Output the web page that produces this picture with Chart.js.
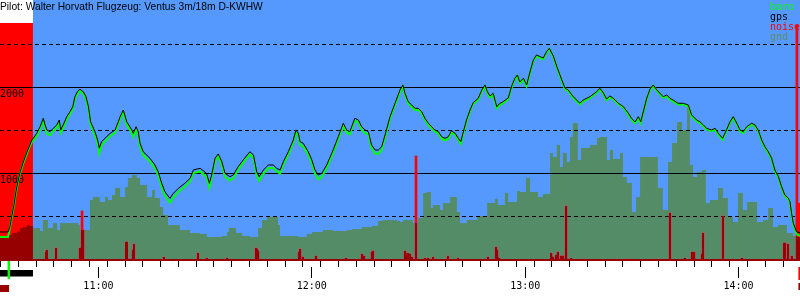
<!DOCTYPE html>
<html lang="de">
<head>
<meta charset="UTF-8">
<title>Barogramm D-KWHW</title>
<script src="https://cdn.jsdelivr.net/npm/chart.js@4.4.0/dist/chart.umd.min.js"></script>
<style>
  html, body { margin: 0; padding: 0; background: #ffffff; }
</style>
</head>
<body>
<canvas id="barogramm" width="800" height="300"></canvas>
<script>
// Zeiten in Minuten seit Mitternacht, Hoehen in Metern
const zeitMin = 632.33;
const zeitMax = 857.27;
const startZeit = 634.6;     // Abheben
const klinkZeit = 641.6;     // Ende Schlepp
const landeZeit = 856.4;
const schleppOben = 2756;

const zeitFlug = [
  632.3, 634.6, 635.1, 635.7, 636.3, 636.8, 637.4, 638.0, 638.8, 639.6, 640.5, 641.3, 641.7, 642.65, 643.6,
  644.5, 645.0, 645.5, 646.4, 647.3, 648.3, 649.0, 649.4, 650.1, 651.1, 652.0, 652.8, 653.4, 654.1, 654.8,
  655.75, 656.5, 657.2, 657.8, 658.4, 659.0, 659.5, 660.0, 660.25, 660.9, 661.85, 663.3, 664.7, 665.6, 666.1,
  667.0, 667.95, 669.4, 669.8, 670.6, 671.2, 671.7, 672.6, 674.5, 675.9, 676.8, 677.8, 678.7, 680.1, 681.1,
  682.5, 684.3, 685.8, 686.7, 688.6, 690.4, 691.2, 691.85, 692.8, 693.7, 694.7, 695.6, 697.0, 697.9, 699.3,
  700.7, 702.6, 703.6, 704.5, 705.2, 706.4, 707.8, 709.2, 710.1, 711.1, 712.0, 713.4, 714.8, 715.55, 716.2,
  716.7, 717.6, 719.0, 720.0, 720.9, 721.8, 722.8, 724.2, 726.0, 727.45, 728.85, 729.8, 730.7, 732.1, 733.1,
  734.0, 735.0, 735.9, 736.8, 737.8, 738.7, 739.65, 740.6, 742.0, 743.4, 744.8, 745.6, 746.2, 747.1, 748.1,
  749.0, 749.95, 750.9, 751.8, 752.75, 753.7, 754.6, 755.6, 756.5, 757.45, 758.4, 759.3, 760.3, 761.2, 761.9,
  762.6, 763.5, 764.5, 765.4, 766.8, 767.8, 768.7, 769.35, 770.1, 771.0, 772.0, 772.9, 773.8, 775.25, 776.2,
  777.1, 777.8, 778.5, 779.5, 780.4, 781.35, 782.3, 783.2, 784.2, 785.1, 786.0, 786.8, 787.9, 788.9, 790.3,
  791.2, 792.1, 793.5, 795.4, 796.3, 798.2, 800.1, 801.0, 801.9, 802.9, 803.8, 804.8, 806.2, 807.6, 809.0,
  809.9, 810.9, 811.8, 812.5, 813.2, 814.2, 815.1, 816.0, 817.0, 817.9, 818.8, 819.8, 820.7, 821.6, 823.0,
  824.45, 825.85, 826.8, 828.2, 829.1, 830.1, 831.0, 832.4, 833.4, 834.3, 835.5, 836.6, 837.6, 838.5, 839.5,
  840.4, 841.3, 842.3, 843.7, 844.6, 845.5, 846.5, 847.4, 848.35, 849.3, 850.2, 851.2, 852.1, 853.0, 854.0,
  854.45, 854.9, 855.4, 856.3, 857.3
];

const hoeheGps = [
  326, 326, 384, 523, 651, 791, 919, 1023, 1128, 1221, 1314, 1395, 1415, 1473, 1550,
  1648, 1570, 1512, 1492, 1531, 1570, 1628, 1512, 1570, 1666, 1724, 1783, 1899, 1957, 1985,
  1957, 1899, 1783, 1608, 1550, 1492, 1434, 1357, 1299, 1376, 1415, 1473, 1512, 1608, 1666,
  1744, 1608, 1512, 1473, 1550, 1492, 1357, 1259, 1183, 1105, 1027, 892, 794, 717, 776,
  834, 892, 950, 1047, 1066, 1008, 892, 988, 1183, 1233, 1143, 1008, 969, 988, 1085,
  1163, 1259, 1221, 1027, 969, 1047, 1105, 1105, 1066, 1047, 1143, 1259, 1395, 1512, 1473,
  1376, 1357, 1259, 1163, 1047, 988, 1008, 1105, 1279, 1434, 1590, 1512, 1492, 1648, 1628,
  1550, 1512, 1492, 1337, 1279, 1279, 1317, 1454, 1666, 1822, 1977, 2035, 1938, 1841, 1802,
  1764, 1764, 1724, 1648, 1590, 1550, 1512, 1492, 1434, 1415, 1434, 1504, 1473, 1415, 1376,
  1488, 1628, 1744, 1831, 1880, 1977, 2035, 1957, 1907, 1938, 1783, 1822, 1841, 1884, 2023,
  2113, 2151, 2070, 2113, 2035, 2186, 2326, 2384, 2364, 2349, 2422, 2462, 2372, 2248, 2093,
  1997, 1977, 1899, 1822, 1860, 1899, 1957, 1997, 1948, 1872, 1907, 1880, 1822, 1783, 1706,
  1648, 1605, 1666, 1608, 1721, 1884, 1988, 2035, 1977, 1938, 1899, 1919, 1880, 1860, 1822,
  1822, 1802, 1686, 1628, 1608, 1570, 1531, 1512, 1531, 1473, 1415, 1512, 1608, 1666, 1590,
  1512, 1492, 1550, 1590, 1570, 1512, 1395, 1317, 1259, 1183, 1047, 969, 852, 756, 717,
  678, 543, 427, 329, 317
];

const hoeheBaro = [
  267, 267, 370, 510, 640, 780, 905, 1010, 1115, 1205, 1300, 1375, 1390, 1440, 1520,
  1620, 1535, 1470, 1450, 1500, 1540, 1595, 1480, 1535, 1635, 1695, 1755, 1870, 1935, 1965,
  1935, 1870, 1750, 1575, 1515, 1455, 1395, 1310, 1240, 1335, 1380, 1440, 1480, 1575, 1635,
  1720, 1575, 1475, 1430, 1515, 1455, 1320, 1220, 1145, 1065, 985, 850, 750, 665, 730,
  795, 855, 915, 1010, 1030, 965, 840, 950, 1150, 1205, 1105, 965, 925, 950, 1050,
  1130, 1230, 1185, 985, 920, 1005, 1070, 1070, 1030, 1005, 1110, 1225, 1365, 1485, 1445,
  1340, 1320, 1225, 1125, 1005, 940, 965, 1070, 1245, 1405, 1565, 1480, 1460, 1620, 1600,
  1515, 1475, 1460, 1300, 1235, 1235, 1280, 1425, 1640, 1800, 1955, 2015, 1915, 1820, 1780,
  1745, 1745, 1705, 1630, 1570, 1530, 1495, 1470, 1410, 1390, 1410, 1485, 1455, 1395, 1350,
  1465, 1610, 1730, 1815, 1865, 1960, 2020, 1940, 1890, 1925, 1765, 1805, 1825, 1870, 2005,
  2100, 2140, 2055, 2100, 2020, 2170, 2310, 2370, 2350, 2335, 2410, 2455, 2360, 2235, 2080,
  1985, 1965, 1885, 1810, 1845, 1885, 1945, 1985, 1935, 1860, 1895, 1868, 1810, 1770, 1690,
  1632, 1590, 1650, 1592, 1705, 1870, 1975, 2025, 1965, 1925, 1885, 1905, 1865, 1845, 1808,
  1808, 1788, 1672, 1615, 1595, 1556, 1518, 1498, 1518, 1458, 1400, 1498, 1595, 1652, 1576,
  1498, 1478, 1536, 1576, 1556, 1498, 1382, 1304, 1246, 1170, 1034, 956, 840, 744, 705,
  665, 530, 410, 300, 280
];

// Gelaendehoehe unter dem Flugzeug (Stufen)
const zeitGnd = [
  632.3, 634.6, 635.7, 637.1, 638.0, 638.8, 639.9, 640.8, 641.6, 643.6, 644.4, 645.8, 647.2, 648.4, 649.2,
  654.3, 654.8, 657.6, 658.5, 660.4, 661.85, 662.7, 663.8, 664.7, 666.1, 667.5, 668.3, 669.4, 670.8, 671.7,
  673.7, 675.1, 675.9, 677.3, 678.2, 679.6, 682.9, 685.75, 688.6, 690.5, 694.75, 696.2, 696.7, 698.7, 700.4,
  702.6, 704.9, 706.0, 707.4, 710.5, 711.05, 716.1, 718.6, 720.1, 723.1, 726.0, 729.9, 731.3, 734.1, 736.9,
  738.6, 740.0, 743.95, 744.8, 745.6, 748.4, 749.9, 751.3, 752.4, 753.5, 754.1, 756.0, 756.9, 758.9, 760.8,
  761.7, 763.6, 766.5, 769.3, 771.5, 772.3, 774.3, 775.2, 777.7, 778.5, 780.2, 781.35, 783.6, 785.0, 787.0,
  787.8, 788.9, 789.8, 790.6, 791.7, 792.6, 793.4, 794.8, 795.7, 798.2, 800.2, 801.0, 803.0, 803.8, 804.7,
  806.65, 807.5, 808.6, 810.0, 811.15, 812.3, 817.3, 818.7, 820.15, 821.3, 822.7, 824.1, 825.5, 826.3, 827.2,
  828.3, 829.7, 830.8, 831.95, 834.2, 835.6, 837.0, 838.4, 839.8, 841.2, 842.4, 845.2, 846.9, 848.3, 849.7,
  851.1, 853.6, 855.3, 856.4, 857.3
];

const hoeheGnd = [
  267, 291, 314, 331, 372, 384, 407, 395, 372, 337, 465, 372, 430, 349, 430,
  407, 349, 698, 733, 674, 733, 698, 756, 837, 733, 849, 953, 988, 953, 872,
  733, 814, 721, 616, 523, 407, 349, 314, 302, 267, 279, 326, 372, 314, 279,
  267, 372, 465, 500, 407, 279, 267, 302, 326, 349, 337, 349, 360, 384, 395,
  453, 465, 453, 442, 465, 430, 488, 779, 791, 605, 640, 581, 663, 733, 558,
  430, 465, 512, 663, 709, 640, 779, 674, 802, 791, 953, 791, 733, 767, 1244,
  1198, 1337, 1081, 1244, 1140, 1430, 1593, 1163, 1302, 1337, 1419, 1430, 1163, 1279, 1174,
  1244, 965, 895, 558, 733, 1198, 837, 581, 1140, 1360, 1605, 1512, 1779, 1105, 965,
  1023, 1047, 663, 698, 837, 721, 500, 442, 779, 581, 674, 442, 465, 605, 384,
  407, 314, 279, 267, 267
];

// Geraeuschpegel (Motor / Variometer)
const zeitNoise = [
  645.3, 645.5, 648.1, 654.8, 655.4, 655.7, 667.8, 668.0, 668.9, 669.7, 670.0, 678.4, 688.0, 690.5, 696.2,
  704.3, 704.6, 704.9, 713.9, 716.4, 716.7, 717.5, 721.2, 729.6, 734.1, 734.7, 736.9, 737.2, 746.2, 746.5,
  747.0, 747.6, 748.2, 749.3, 751.8, 752.7, 754.1, 758.3, 761.1, 769.5, 771.8, 772.1, 772.6, 787.3, 787.8,
  788.7, 789.2, 790.1, 790.6, 791.5, 792.9, 796.5, 805.2, 808.6, 816.8, 820.7, 824.9, 826.9, 827.5, 829.7,
  830.0, 835.6, 841.0, 852.8, 853.0, 853.9, 855.0, 856.4, 856.8, 857.1
];

const werteNoise = [
  93, 116, 140, 140, 570, 349, 209, 209, 12, 116, 186, 35, 81, 23, 23,
  140, 128, 105, 12, 93, 128, 35, 47, 23, 70, 47, 93, 105, 105, 58,
  81, 70, 35, 1209, 23, 23, 35, 47, 23, 35, 151, 116, 23, 81, 35,
  58, 93, 47, 47, 628, 23, 12, 12, 12, 12, 547, 23, 93, 93, 70,
  314, 512, 23, 198, 198, 186, 47, 2730, 660, 660
];

const fuenfMinuten = [
  635, 640, 645, 650, 655, 660, 665, 670, 675, 680, 685, 690, 695, 700, 705,
  710, 715, 720, 725, 730, 735, 740, 745, 750, 755, 760, 765, 770, 775, 780,
  785, 790, 795, 800, 805, 810, 815, 820, 825, 830, 835, 840, 845, 850, 855
];
const stunden = [660, 720, 780, 840];
const hoehenLinien = [500, 1000, 1500, 2000, 2500];

const titel = 'Pilot: Walter Horvath Flugzeug: Ventus 3m/18m D-KWHW';
const legende = [
  { text: 'baro', farbe: '#00ff00' },
  { text: 'gps', farbe: '#000000' },
  { text: 'noise', farbe: '#ff0000' },
  { text: 'gnd', farbe: 'rgb(95,140,100)' }
];

const blau = '#5599ff';
const rot = '#ff0000';
const dunkelrot = '#990000';
const gndFarbe = 'rgb(150,140,104)';
const mono = "'DejaVu Sans Mono', monospace";

function punkte(zeiten, werte) {
  return zeiten.map((t, i) => ({ x: t, y: werte[i] }));
}

function uhrzeit(v) {
  const h = Math.floor(v / 60);
  const m = Math.round(v - h * 60);
  return h + ':' + String(m).padStart(2, '0');
}

const barogrammPlugin = {
  id: 'barogramm',
  beforeDraw(chart) {
    const { ctx, chartArea: a, scales } = chart;
    const xKlink = scales.x.getPixelForValue(klinkZeit);
    const yOben = scales.y.getPixelForValue(schleppOben);
    ctx.save();
    ctx.fillStyle = '#ffffff';
    ctx.fillRect(0, 0, chart.width, chart.height);
    ctx.fillStyle = blau;
    ctx.fillRect(xKlink, a.top, a.right - xKlink, a.bottom - a.top);
    ctx.fillStyle = rot;
    ctx.fillRect(a.left, yOben, xKlink - a.left, a.bottom - yOben);
    ctx.restore();
  },
  // Gelaende wird mit "darken" gemalt: ueber Rot wird es dunkelrot
  afterDatasetDraw(chart, args) {
    const label = chart.data.datasets[args.index].label;
    if (label === 'noise') {
      chart.ctx.save();
      chart.ctx.globalCompositeOperation = 'darken';
    } else if (label === 'gnd') {
      chart.ctx.restore();
    }
  },
  afterDraw(chart) {
    const { ctx, chartArea: a, scales } = chart;
    const xStart = scales.x.getPixelForValue(startZeit);
    const xKlink = scales.x.getPixelForValue(klinkZeit);
    const xLande = scales.x.getPixelForValue(landeZeit);
    ctx.save();
    // Markierungen unter der Zeitachse
    ctx.fillStyle = '#000000';
    ctx.fillRect(a.left, a.bottom + 10, xKlink - a.left, 6.5);
    ctx.fillStyle = '#00ff00';
    ctx.fillRect(xStart - 0.5, a.bottom + 1, 2.5, 18);
    ctx.fillStyle = dunkelrot;
    ctx.fillRect(a.left, a.bottom + 25, xStart - a.left + 1, 7);
    ctx.fillRect(xLande + 1.5, a.bottom + 23, 3, 7);
    ctx.fillStyle = rot;
    ctx.fillRect(xLande + 1.5, a.bottom + 7, 3, 13);

    // Titel
    ctx.fillStyle = '#000000';
    ctx.font = '10.25px "Liberation Sans", Arial, sans-serif';
    ctx.textBaseline = 'alphabetic';
    ctx.textAlign = 'left';
    ctx.fillText(titel, 0, 10);

    // Legende
    ctx.font = '10px ' + mono;
    legende.forEach((l, i) => {
      ctx.fillStyle = l.farbe;
      ctx.fillText(l.text, 770, 10 + i * 10);
    });
    ctx.restore();
  }
};

new Chart(document.getElementById('barogramm'), {
  type: 'line',
  data: {
    datasets: [
      {
        label: 'gps',
        data: punkte(zeitFlug, hoeheGps),
        borderColor: '#000000',
        borderWidth: 1,
        pointRadius: 0,
        order: 1
      },
      {
        label: 'baro',
        data: punkte(zeitFlug, hoeheBaro),
        borderColor: '#00ff00',
        borderWidth: 2,
        pointRadius: 0,
        order: 2
      },
      {
        label: 'gnd',
        data: punkte(zeitGnd, hoeheGnd),
        stepped: true,
        fill: 'origin',
        backgroundColor: gndFarbe,
        borderColor: gndFarbe,
        borderWidth: 0,
        pointRadius: 0,
        order: 3
      },
      {
        type: 'bar',
        label: 'noise',
        data: punkte(zeitNoise, werteNoise),
        backgroundColor: rot,
        borderWidth: 0,
        barThickness: 2,
        grouped: false,
        order: 4
      }
    ]
  },
  options: {
    responsive: false,
    animation: false,
    devicePixelRatio: 1,
    layout: { padding: { left: 0, right: 0, top: 0, bottom: 6 } },
    plugins: {
      legend: { display: false },
      tooltip: { enabled: false }
    },
    scales: {
      x: {
        type: 'linear',
        position: 'bottom',
        weight: 0,
        min: zeitMin,
        max: zeitMax,
        offset: false,
        afterBuildTicks: (s) => { s.ticks = fuenfMinuten.map(v => ({ value: v })); },
        ticks: { display: false, autoSkip: false },
        grid: { drawOnChartArea: false, drawTicks: true, tickLength: 7, tickColor: '#000000', tickWidth: 1 },
        border: { display: true, color: dunkelrot, width: 2 }
      },
      x2: {
        type: 'linear',
        position: 'bottom',
        weight: 1,
        min: zeitMin,
        max: zeitMax,
        offset: false,
        afterBuildTicks: (s) => { s.ticks = stunden.map(v => ({ value: v })); },
        ticks: {
          autoSkip: false,
          maxRotation: 0,
          padding: 2,
          color: '#000000',
          font: { family: mono, size: 10 },
          callback: (v) => uhrzeit(v)
        },
        grid: { drawOnChartArea: false, tickLength: 11, tickColor: '#000000', tickWidth: 1 },
        border: { display: false }
      },
      y: {
        type: 'linear',
        position: 'left',
        min: 0,
        max: 3023,
        afterBuildTicks: (s) => { s.ticks = hoehenLinien.map(v => ({ value: v })); },
        afterFit: (s) => { s.paddingTop = 0; s.paddingBottom = 0; },
        ticks: {
          mirror: true,
          padding: 0,
          labelOffset: 6,
          color: '#000000',
          font: { family: mono, size: 10 },
          callback: (v) => (v % 1000 === 0 ? String(v) : '')
        },
        grid: { color: '#000000', lineWidth: 1, drawTicks: false },
        border: {
          display: false,
          dash: (ctx) => (ctx.tick && ctx.tick.value % 1000 === 0 ? [] : [4, 3])
        }
      }
    }
  },
  plugins: [barogrammPlugin]
});
</script>
</body>
</html>
